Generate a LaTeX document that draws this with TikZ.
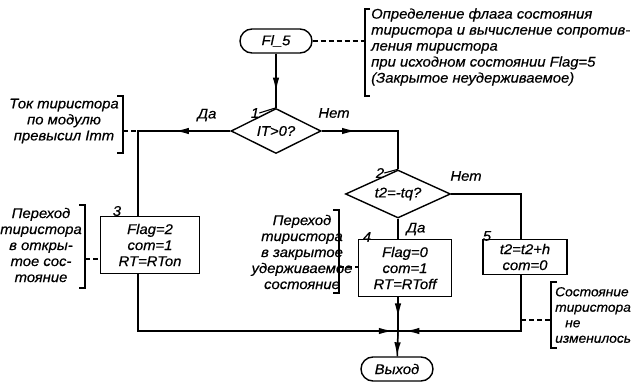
\documentclass[tikz,border=0pt]{standalone}
\usepackage{fontspec}
\setmainfont{Liberation Sans}[FakeStretch=1.06, FakeBold=0.5]
\usepackage{tikz}
\usetikzlibrary{shapes.geometric, arrows.meta, positioning, calc}

\begin{document}
\begin{tikzpicture}[
    x=1pt, y=-1pt,
    every node/.style={font=\fontsize{14}{16}\selectfont\itshape, inner sep=0pt},
    line/.style={line width=1.4pt},
    flowtip/.style={line width=1.4pt, -{Latex[length=14pt,width=6.5pt]}},
    term/.style={rectangle, draw, line width=1.4pt, rounded corners=12pt, minimum width=72pt, minimum height=24pt},
    block/.style={rectangle, draw, line width=1.4pt, align=center},
    decision/.style={diamond, draw, line width=1.4pt, aspect=2},
    note/.style={align=center},
    leader/.style={line width=1.1pt, dash pattern=on 5pt off 3pt},
    brack/.style={line width=1.1pt}
]
\useasboundingbox (0,0) rectangle (635,382);
\node[term] (start) at (276,41) {Fl\_5};
\node[decision, minimum width=90pt, minimum height=45pt] (dec1) at (276,131) {IT>0?};
\node[decision, minimum width=105pt, minimum height=48pt] (dec2) at (398,194) {t2=-tq?};
\node[block, minimum width=99pt, minimum height=57pt] (box3) at (150,245) {Flag=2\\com=1\\RT=RTon};
\node[block, minimum width=93pt, minimum height=57pt] (box4) at (405,268) {Flag=0\\com=1\\RT=RToff};
\node[block, minimum width=84pt, minimum height=35pt] (box5) at (525,257) {t2=t2+h\\com=0};
\node[term] (stop) at (397,369) {Выход};
\coordinate (c1) at (138,131);
\coordinate (c2) at (398,131);
\coordinate (c3) at (521,194);
\coordinate (j) at (398,331);
% numbers and branch labels
\node (n1) at (255,113) {1};
\node (n2) at (380,173) {2};
\node (n3) at (117,211) {3};
\node (n4) at (367,237) {4};
\node (n5) at (487,236) {5};
\draw[brack] (n1.east) -- (dec1.north);
\draw[brack] (n2.east) -- (dec2.north);
\node (yes1) at (207,115) {Да};
\node (no1) at (334,113) {Нет};
\node (no2) at (466,176) {Нет};
\node (yes2) at (416,229) {Да};
% flow lines
\draw[line] (start) -- (dec1);
\draw[flowtip] (start) -- ($(start.south)!0.7!(dec1.north)$);
\draw[line] (dec1.west) -- (c1) -- (c1 |- box3.north);
\draw[flowtip] (dec1.west) -- ($(dec1.west)!0.6!(c1)$);
\draw[line] (dec1.east) -- (c2) -- (dec2.north);
\draw[flowtip] (dec1.east) -- ($(dec1.east)!0.45!(c2)$);
\draw[line] (dec2.south) -- (dec2.south |- box4.north);
\draw[line] (dec2.east) -- (c3) -- (c3 |- box5.north);
\draw[line] (c1 |- box3.south) -- (c1 |- j) -- (j);
\draw[flowtip] (c1 |- j) -- ($(c1 |- j)!0.98!(j)$);
\draw[line] (dec2.south |- box4.south) -- (j);
\draw[flowtip] (dec2.south |- box4.south) -- ($(dec2.south |- box4.south)!0.6!(j)$);
\draw[line] (c3 |- box5.south) -- (c3 |- j) -- (j);
\draw[flowtip] (c3 |- j) -- ($(c3 |- j)!0.94!(j)$);
\draw[line] (j) -- (stop);
\draw[flowtip] (j) -- (stop.north);
% comments
\node[align=left, anchor=west] (note1) at (371,47) {Определение флага состояния\\тиристора и вычисление сопротив-\\ления тиристора\\при исходном состоянии Flag=5\\(Закрытое неудерживаемое)};
\node[note] (note2) at (64,121) {Ток тиристора\\по модулю\\превысил Imm};
\node[note] (note3) at (41,245) {Переход\\тиристора\\в откры-\\тое сос-\\тояние};
\node[note] (note4) at (302,252) {Переход\\тиристора\\в закрытое\\удерживаемое\\состояние};
\node[align=left, anchor=west, font=\fontsize{13}{15.5}\selectfont\itshape] (note5) at (555,315) {Состояние\\тиристора\\\hspace{10pt}не\\изменилось};
\draw[brack] (370,9) -- (365,9) -- (365,96) -- (370,96);
\draw[brack] (117,96) -- (123,96) -- (123,153) -- (117,153);
\draw[brack] (79,205) -- (85,205) -- (85,288) -- (79,288);
\draw[brack] (333,210) -- (339,210) -- (339,293) -- (333,293);
\draw[brack] (557,282) -- (551,282) -- (551,348) -- (557,348);
\coordinate (b1) at (365,41);
\coordinate (b2) at (123,131);
\coordinate (b3) at (85,259);
\coordinate (b4) at (339,267);
\coordinate (b5) at (551,320);
\draw[leader] (start.east) -- (b1);
\draw[leader] (b2) -- (c1);
\draw[leader] (b3) -- (box3.west |- b3);
\draw[leader] (b4) -- (box4.west |- b4);
\draw[leader] (c3 |- b5) -- (b5);
\end{tikzpicture}
\end{document}
